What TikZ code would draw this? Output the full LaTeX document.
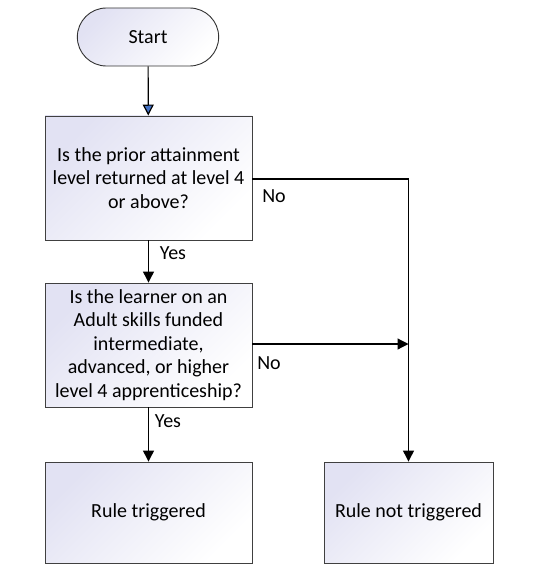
\documentclass[tikz,border=0pt]{standalone}
\usepackage{fontspec}
\setmainfont{Carlito}
\usetikzlibrary{arrows.meta,shapes.misc}
\definecolor{lav}{HTML}{E2E2F3}
\definecolor{tipblue}{HTML}{4472C4}
\tikzset{
  box/.style={draw=black!75, line width=0.9pt, rectangle, align=center, inner sep=0pt,
    top color=lav, bottom color=white, shading angle=45, font=\fontsize{20}{23.5}\selectfont},
  term/.style={draw=black!80, line width=0.9pt, rounded rectangle, align=center,
    top color=lav, bottom color=white, shading angle=45, font=\fontsize{20}{23.5}\selectfont,
    minimum width=148pt, minimum height=58pt},
  conn/.style={line width=1.2pt, draw=black},
  tip/.style={-{Triangle[length=11pt,width=11pt]}},
  lbl/.style={font=\fontsize{20}{23.5}\selectfont, inner sep=0pt}
}
\begin{document}
\begin{tikzpicture}[x=1pt,y=-1pt]
\useasboundingbox (0,0) rectangle (544,583);
\node[term] (start) at (148,37) {Start};
\node[box, minimum width=207pt, minimum height=124pt] (q1) at (148.5,178) {Is the prior attainment\\level returned at level 4\\or above?};
\node[box, minimum width=207pt, minimum height=124pt] (q2) at (148.5,345) {Is the learner on an\\Adult skills funded\\intermediate,\\advanced, or higher\\level 4 apprenticeship?};
\node[box, minimum width=207pt, minimum height=101pt] (r1) at (148.5,512.5) {Rule triggered};
\node[box, minimum width=169pt, minimum height=101pt] (r2) at (408.5,512.5) {Rule not triggered};
\coordinate (c1) at (408.5,179);
\coordinate (c2) at (408.5,344);
\draw[conn, -{Triangle[length=11pt,width=11pt,fill=tipblue]}] (start) -- (q1);
\draw[conn, tip] (q1) -- (q2);
\draw[conn, tip] (q2) -- (r1);
\draw[conn, tip] (q1.east |- c1) -- (c1) -- (r2.north);
\draw[conn, tip] (q2.east |- c2) -- (c2);
\node[lbl] (n1) at (274,196) {No};
\node[lbl] (n2) at (269,363) {No};
\node[lbl] (y1) at (173,253) {Yes};
\node[lbl] (y2) at (168,421) {Yes};
\end{tikzpicture}
\end{document}
